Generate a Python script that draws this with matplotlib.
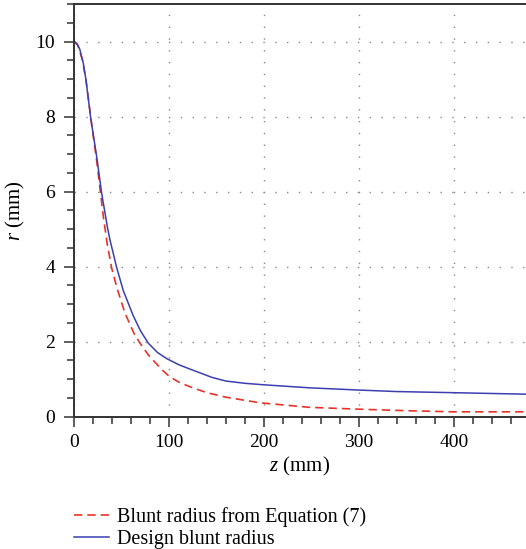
import matplotlib
matplotlib.use("Agg")
import matplotlib.pyplot as plt
from matplotlib.ticker import MultipleLocator

plt.rcParams['font.family'] = ['Liberation Serif', 'DejaVu Serif']
plt.rcParams['mathtext.fontset'] = 'custom'
plt.rcParams['mathtext.rm'] = 'Liberation Serif'
plt.rcParams['mathtext.it'] = 'Liberation Serif:italic'

# design blunt radius
z_design = [0, 3, 6, 9.8, 12.6, 17.5, 23.9, 29.1, 35.4, 37.9, 44.9, 51.9, 62.4, 70, 78.2,
            88, 97.5, 110, 122, 132.6, 145, 160, 180, 200, 248, 300, 340, 400, 476]
r_design = [10, 9.95, 9.8, 9.42, 8.98, 7.98, 6.93, 5.96, 5.02, 4.71, 3.98, 3.36, 2.69, 2.29, 1.96,
            1.71, 1.55, 1.39, 1.27, 1.17, 1.05, 0.95, 0.89, 0.85, 0.77, 0.71, 0.67, 0.64, 0.6]

# blunt radius from Equation (7)
z_eq = [0, 4, 9, 13, 18, 24, 30.9, 35, 39.7, 45, 53.7, 63.2, 69.5, 78.2, 83.5, 94, 101,
        112, 125, 140, 160, 196, 248, 300, 350, 400, 476]
r_eq = [10, 9.9, 9.5, 8.9, 7.9, 6.8, 5.33, 4.6, 3.96, 3.45, 2.76, 2.22, 1.96, 1.65, 1.5, 1.22, 1.06,
        0.9, 0.77, 0.64, 0.52, 0.37, 0.25, 0.2, 0.16, 0.13, 0.13]

fig = plt.figure(figsize=(5.26, 5.49), dpi=100)
ax = fig.add_axes([74/526, 1 - 416.7/549, 1 - 74/526, (416.7 - 4)/549])

ax.plot(z_eq, r_eq, color='#e8332a', lw=1.2, ls=(0, (5, 3)), label='Blunt radius from Equation (7)')
ax.plot(z_design, r_design, color='#3b3fb0', lw=1.1, label='Design blunt radius')

ax.set_xlim(0, 476)
ax.set_ylim(0, 11)
ax.xaxis.set_major_locator(MultipleLocator(100))
ax.xaxis.set_minor_locator(MultipleLocator(20))
ax.yaxis.set_major_locator(MultipleLocator(2))
ax.yaxis.set_minor_locator(MultipleLocator(0.5))
ax.tick_params(which='major', direction='out', length=7.5, width=1.1, labelsize=14,
               color='#333333', pad=5)
ax.tick_params(axis='y', which='major', pad=6)
ax.tick_params(which='minor', direction='out', length=5, width=1.1, color='#333333')
ax.spines['right'].set_visible(False)
for s in ['left', 'bottom', 'top']:
    ax.spines[s].set_linewidth(1.4)
    ax.spines[s].set_color('#333333')

ax.grid(True, which='major', color='#888888', ls=(0, (1, 7.5)), lw=1.0)

ax.set_xlabel('$z$ (mm)', fontsize=15, labelpad=3)
ax.set_ylabel('$r$ (mm)', fontsize=15, labelpad=6)

fig.legend(loc='upper left', bbox_to_anchor=(74/526, 1 - 507/549), frameon=False,
           fontsize=14.5, handlelength=1.75, handletextpad=0.4, labelspacing=0.15,
           borderaxespad=0, borderpad=0)

fig.savefig('out.png', dpi=100)
